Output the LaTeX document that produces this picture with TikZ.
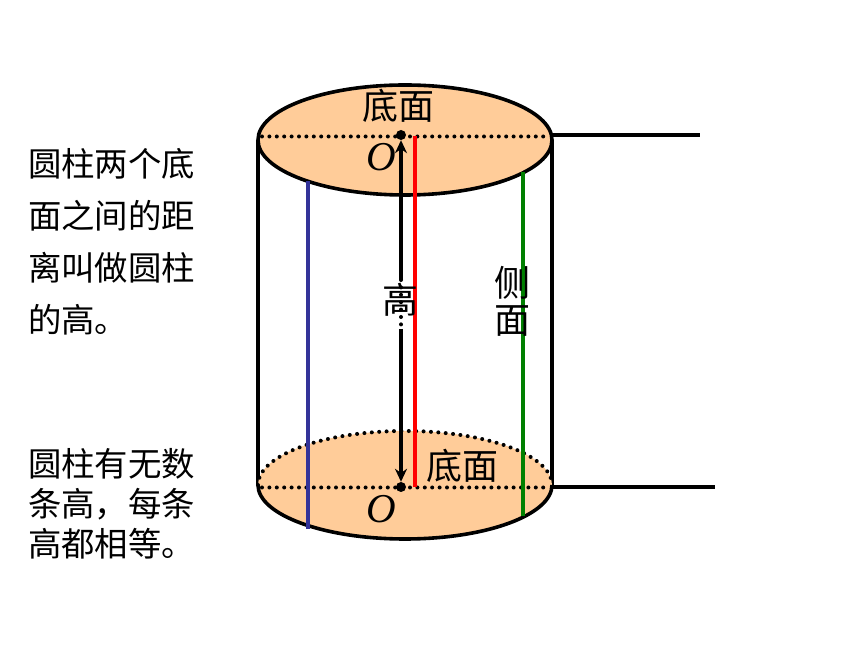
\documentclass[tikz,border=0pt]{standalone}
\usepackage{fontspec}
\setmainfont{Noto Sans CJK SC}
\newfontfamily\ofont{Liberation Serif}
\usepackage{xcolor}
\usetikzlibrary{arrows.meta,positioning,calc}
\definecolor{basefill}{HTML}{FFCC99}
\definecolor{blueline}{HTML}{333399}
\definecolor{greenline}{HTML}{008000}
\tikzset{
	edge/.style={line width=3.6pt},
	dots/.style={line width=4pt,line cap=round,dash pattern=on 0pt off 7.4pt},
	lbl/.style={inner sep=0pt,font=\fontsize{36}{36}\selectfont},
	letter/.style={inner sep=0pt,font=\fontsize{41}{41}\selectfont\ofont\itshape},
	para/.style={inner sep=0pt,align=left,anchor=north west},
	pt/.style={circle,fill=black,inner sep=0pt,minimum size=10pt}
}

\begin{document}
\begin{tikzpicture}[x=1pt,y=1pt]
\useasboundingbox (0,0) rectangle (860,645);

\coordinate (tl) at (258,505);
\coordinate (tr) at (552,505);
\coordinate (bl) at (258,160);
\coordinate (br) at (552,160);
\coordinate (tdl) at (262,508.5);
\coordinate (tdr) at (548,508.5);
\coordinate (bdl) at (262,157.5);
\coordinate (bdr) at (548,157.5);
\coordinate (startT) at (552,510);
\coordinate (startB) at (552,158);
\coordinate (lineT) at (700,510);
\coordinate (lineB) at (715,158);

% sides
\draw[edge] (tl) to (bl);
\draw[edge] (tr) to (br);

% bottom base
\fill[basefill] (405,160) ellipse [x radius=147,y radius=54];
\draw[dots] (bl) arc [start angle=180,end angle=0,x radius=147,y radius=54];
\draw[edge] (bl) arc [start angle=180,end angle=360,x radius=147,y radius=54];

% top base
\draw[edge,fill=basefill] (405,505) ellipse [x radius=147,y radius=55];

\draw[dots] (tdl) to (tdr);
\draw[dots] (bdl) to (bdr);
\draw[edge] (startT) to (lineT);
\draw[edge] (startB) to (lineB);

% heights
\coordinate (blueT) at (308,464);
\coordinate (blueB) at (308,116);
\coordinate (redT) at (415,509);
\coordinate (redB) at (415,158);
\coordinate (greenT) at (523,473);
\coordinate (greenB) at (523,129);
\draw[line width=3.6pt,blueline] (blueT) to (blueB);
\draw[line width=3.6pt,red] (redT) to (redB);
\draw[line width=3.6pt,greenline] (greenT) to (greenB);

\node (Ot) at (401,510)[pt] {};
\node (Ob) at (401,158)[pt] {};
\coordinate (gapT) at (401,365);
\coordinate (gapB) at (401,316);
\draw[edge,{Stealth[length=13pt,width=12pt]}-] (Ot.south) to (gapT);
\draw[dots] (gapT) to (gapB);
\draw[edge,-{Stealth[length=13pt,width=12pt]}] (gapB) to (Ob.north);

\node (baseT) at (398,539)[lbl] {底面};
\node (baseB) at (462,179)[lbl] {底面};
\node (O1) at (381,488)[letter] {O};
\node (O2) at (381,136)[letter] {O};
\node (gao) at (400,345)[lbl] {高};
\node (ce) at (512,362)[lbl] {侧};
\node (mian) at (512,324)[lbl] {面};

\node (txtA) at (28,497)[para,font=\fontsize{33.4}{52}\selectfont] {圆柱两个底\\面之间的距\\离叫做圆柱\\的高。};
\node (txtB) at (28,197)[para,font=\fontsize{33.4}{40}\selectfont] {圆柱有无数\\条高，每条\\高都相等。};
\end{tikzpicture}
\end{document}
